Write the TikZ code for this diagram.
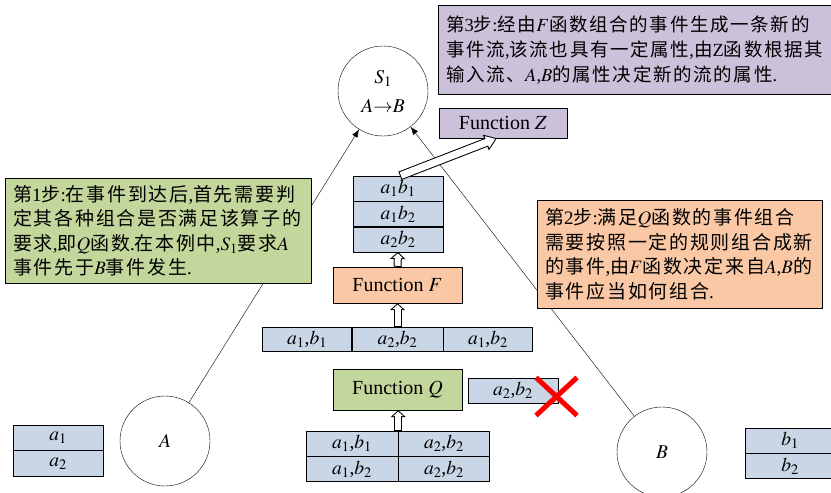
\documentclass[tikz,border=0pt]{standalone}
\usepackage{mathptmx}
\usepackage{fontspec}
\setmainfont{Liberation Serif}
\newfontfamily\cjk[LetterSpace=9]{Noto Sans CJK SC}
\usetikzlibrary{positioning, arrows.meta, shapes.misc}
\definecolor{cellblue}{RGB}{200,214,230}
\definecolor{qgreen}{RGB}{195,214,155}
\definecolor{fpeach}{RGB}{250,200,165}
\definecolor{zpurple}{RGB}{204,193,218}
\newcommand{\zh}[1]{{\cjk #1}}

\tikzset{
  cell/.style={draw, fill=cellblue, minimum width=90pt, minimum height=25pt, inner sep=0pt, font=\fontsize{19.5}{21}\selectfont},
  funcbox/.style={draw, minimum width=129pt, inner sep=0pt, font=\fontsize{20}{22}\selectfont},
  note/.style={draw, anchor=north west, align=left, inner xsep=8pt, inner ysep=0pt, font=\fontsize{19}{24.5}\selectfont},
  event/.style={draw, circle, minimum size=90pt, inner sep=0pt, fill=white, align=center, font=\fontsize{19.5}{29}\selectfont},
  conn/.style={-{Latex[length=8pt, width=6pt]}},
  vhollow/.style={line width=8pt, -{Triangle[length=7pt, width=15pt]},
    postaction={draw=white, line width=6pt, shorten <=1pt, shorten >=1.4pt, -{Triangle[length=4.6pt, width=10pt]}}},
  dhollow/.style={line width=9pt, -{Triangle[length=12pt, width=16pt]},
    postaction={draw=white, line width=7pt, shorten <=1pt, shorten >=1.8pt, -{Triangle[length=9pt, width=12pt]}}},
}

\begin{document}
\begin{tikzpicture}[x=1pt, y=-1pt]
\useasboundingbox (0,0) rectangle (831,493);

% operator and input streams
\node[event] (s1) at (383,91) {$S_1$\\$A{\rightarrow}B$};
\node[event] (A) at (165,441) {$A$};
\node[event] (B) at (662,452) {$B$};
\draw[conn] (A) -- (s1);
\draw[conn] (B) -- (s1);

% step notes
\node[note, fill=qgreen, minimum width=306pt, minimum height=105pt, text width=290pt] (step1) at (5,178) {%
  \zh{第}1\zh{步}:\zh{在事件到达后},\zh{首先需要判}\\
  \zh{定其各种组合是否满足该算子的}\\
  \zh{要求},\zh{即}$Q$\zh{函数}.\zh{在本例中},$S_1$\zh{要求}$A$\\
  \zh{事件先于}$B$\zh{事件发生}.};
\node[note, fill=fpeach, minimum width=285pt, minimum height=108pt, text width=269pt] (step2) at (537,200) {%
  \zh{第}2\zh{步}:\zh{满足}$Q$\zh{函数的事件组合}\\
  \zh{需要按照一定的规则组合成新}\\
  \zh{的事件},\zh{由}$F$\zh{函数决定来自}$A$,$B$\zh{的}\\
  \zh{事件应当如何组合}.};
\node[note, fill=zpurple, minimum width=395pt, minimum height=89pt, text width=379pt,
  font=\fontsize{18.5}{25}\selectfont] (step3) at (438,5) {%
  \zh{第}3\zh{步}:\zh{经由}$F$\zh{函数组合的事件生成一条新的}\\
  \zh{事件流},\zh{该流也具有一定属性},\zh{由}Z\zh{函数根据其}\\
  \zh{输入流、}$A$,$B$\zh{的属性决定新的流的属性}.};

% functions
\node[funcbox, fill=zpurple, minimum width=128pt, minimum height=30pt] (fz) at (503,123) {Function $Z$};
\node[funcbox, fill=fpeach, minimum height=36pt] (ff) at (397.5,285) {Function $F$};
\node[funcbox, fill=qgreen, minimum height=41pt] (fq) at (397.5,389.5) {Function $Q$};

% combined events
\node[cell] (t1) at (398,188.5) {$a_1b_1$};
\node[cell, below=0pt of t1] (t2) {$a_1b_2$};
\node[cell, below=0pt of t2] (t3) {$a_2b_2$};

\node[cell, minimum width=91pt, minimum height=24pt] (m2) at (397.5,339) {$a_2$,$b_2$};
\node[cell, minimum width=89pt, minimum height=24pt, left=0pt of m2] (m1) {$a_1$,$b_1$};
\node[cell, minimum width=89pt, minimum height=24pt, right=0pt of m2] (m3) {$a_1$,$b_2$};

\node[cell] (drop) at (513,390.5) {$a_2$,$b_2$};
\node[cross out, draw=red, line width=5pt, minimum width=36pt, minimum height=33pt, inner sep=0pt] (nope) at (556.5,396.5) {};

\node[cell, minimum width=92pt] (c11) at (352,443.5) {$a_1$,$b_1$};
\node[cell, minimum width=91pt, right=0pt of c11] (c12) {$a_2$,$b_2$};
\node[cell, minimum width=92pt, below=0pt of c11] (c21) {$a_1$,$b_2$};
\node[cell, minimum width=91pt, below=0pt of c12] (c22) {$a_2$,$b_2$};

% raw events
\node[cell, minimum height=25.5pt] (a1) at (58,437.5) {$a_1$};
\node[cell, minimum height=25.5pt, below=0pt of a1] (a2) {$a_2$};
\node[cell] (b1) at (790,440.5) {$b_1$};
\node[cell, below=0pt of b1] (b2) {$b_2$};

% data flow
\draw[vhollow] (c11.north east) -- (c11.north east |- fq.south);
\draw[vhollow] (m2.north) -- (ff.south);
\draw[vhollow] (ff.north) -- (t3.south);
\draw[dhollow] ([xshift=2pt]t1.north) -- ([xshift=-6pt]fz.south);
\end{tikzpicture}
\end{document}
